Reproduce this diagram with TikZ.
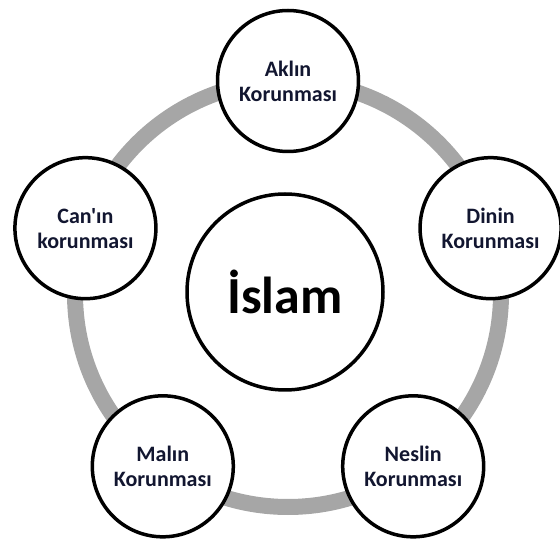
\documentclass[tikz,border=0pt]{standalone}
\usepackage{fontspec}
\setmainfont{Carlito}[Ligatures=TeXOff]
\definecolor{ringgray}{RGB}{166,166,166}
\definecolor{labelink}{RGB}{18,22,48}
\begin{document}
\begin{tikzpicture}[x=1pt,y=1pt,
  ring/.style={draw=ringgray,line width=16pt},
  petal/.style={circle,draw=black,fill=white,line width=3.5pt,minimum size=141pt,
    inner sep=0pt,align=center,font=\bfseries\fontsize{22}{25}\selectfont,text=labelink},
  hubbox/.style={circle,draw=black,fill=white,line width=3.5pt,minimum size=196pt,
    inner sep=0pt,font=\bfseries\fontsize{52}{60}\selectfont,text=black}]
\useasboundingbox (0,0) rectangle (560,544);
\coordinate (hub) at (288,250);
% grey ring joining the five outer circles
\draw[ring] (hub) circle[radius=213pt];
% outer circles
\node[petal] (akl)   at ([shift={(90:213pt)}]hub)   {Aklın\\Korunması};
\node[petal] (din)   at ([shift={(18:213pt)}]hub)   {Dinin\\Korunması};
\node[petal] (nesil) at ([shift={(-54:213pt)}]hub)  {Neslin\\Korunması};
\node[petal] (mal)   at ([shift={(-126:213pt)}]hub) {Malın\\Korunması};
\node[petal] (can)   at ([shift={(162:213pt)}]hub)  {Can'ın\\korunması};
% central circle
\node[hubbox] (islam) at (285,252) {İslam};
\end{tikzpicture}
\end{document}
